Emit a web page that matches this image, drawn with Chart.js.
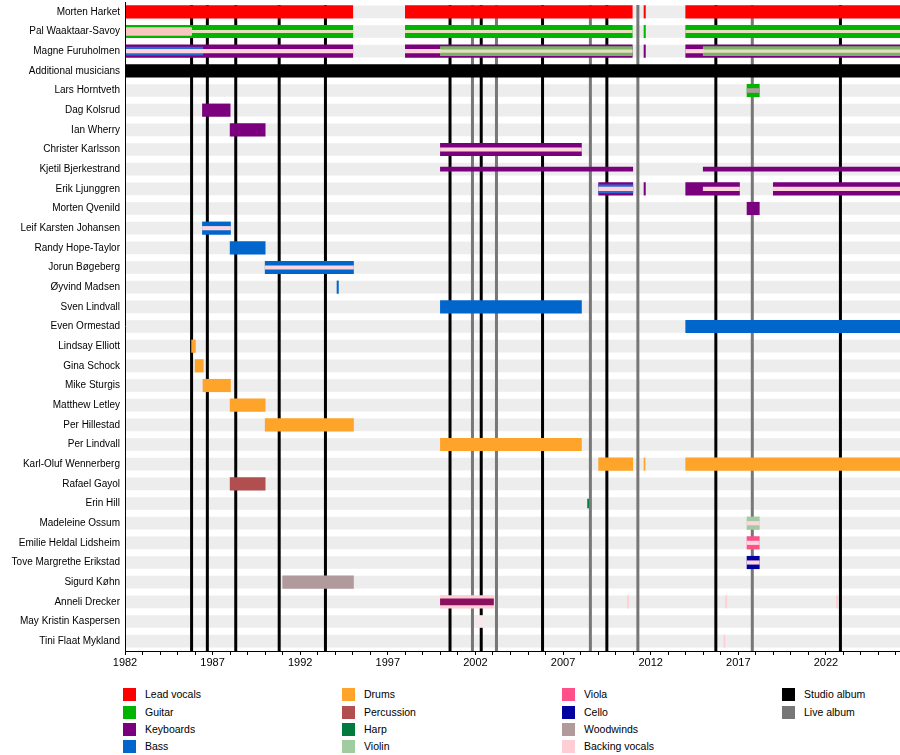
<!DOCTYPE html>
<html><head><meta charset="utf-8">
<script src="https://cdn.jsdelivr.net/npm/chart.js@4.4.1/dist/chart.umd.min.js"></script>
<style>
html,body{margin:0;padding:0;background:#fff;}
#wrap{position:relative;width:900px;height:755px;overflow:hidden;}
#c{position:absolute;left:0;top:0;}
.lg{position:absolute;height:13px;font:10.5px "Liberation Sans",Arial,sans-serif;color:#000;white-space:nowrap;}
.lg .sw{position:absolute;left:0;top:0;width:13px;height:13px;}
.lg .tx{position:absolute;left:22px;top:0;line-height:13px;}
</style></head><body>
<div id="wrap"><canvas id="c" width="900" height="680" style="width:900px;height:680px"></canvas><div id="legend"></div></div>
<script>
const members = ['Morten Harket','Pal Waaktaar-Savoy','Magne Furuholmen','Additional musicians','Lars Horntveth','Dag Kolsrud','Ian Wherry','Christer Karlsson','Kjetil Bjerkestrand','Erik Ljunggren','Morten Qvenild','Leif Karsten Johansen','Randy Hope-Taylor','Jorun Bøgeberg','Øyvind Madsen','Sven Lindvall','Even Ormestad','Lindsay Elliott','Gina Schock','Mike Sturgis','Matthew Letley','Per Hillestad','Per Lindvall','Karl-Oluf Wennerberg','Rafael Gayol','Erin Hill','Madeleine Ossum','Emilie Heldal Lidsheim','Tove Margrethe Erikstad','Sigurd Køhn','Anneli Drecker','May Kristin Kaspersen','Tini Flaat Mykland'];

const START = 1982;
const END = 2026.23;
const tickYears = [1982,1987,1992,1997,2002,2007,2012,2017,2022];
const minorYears = [1982,1983,1984,1985,1986,1987,1988,1989,1990,1991,1992,1993,1994,1995,1996,1997,1998,1999,2000,2001,2002,2003,2004,2005,2006,2007,2008,2009,2010,2011,2012,2013,2014,2015,2016,2017,2018,2019,2020,2021,2022,2023,2024,2025,2026];

const studioAlbums = [1985.8,1986.7,1988.32,1990.8,1993.44,2000.55,2002.33,2005.83,2009.5,2015.72,2022.83];
const liveAlbums = [2001.83,2003.2,2008.56,2011.27,2017.8];

const additional = [['Additional musicians',START,END]];
const leadVocals = [['Morten Harket',1982,1995.0],['Morten Harket',1998.0,2010.95],['Morten Harket',2011.62,2011.7],['Morten Harket',2014.0,END]];
const guitar = [['Pal Waaktaar-Savoy',1982,1995.0],['Pal Waaktaar-Savoy',1998.0,2010.95],['Pal Waaktaar-Savoy',2011.62,2011.7],['Pal Waaktaar-Savoy',2014.0,END],['Lars Horntveth',2017.5,2018.2]];
const keyboards = [['Magne Furuholmen',1982,1995.0],['Magne Furuholmen',1998.0,2010.95],['Magne Furuholmen',2011.62,2011.7],['Magne Furuholmen',2014.0,END],
  ['Dag Kolsrud',1986.42,1988.0],['Ian Wherry',1988.0,1990.0],['Christer Karlsson',2000.0,2008.05],
  ['Erik Ljunggren',2009.03,2010.98],['Erik Ljunggren',2011.62,2011.7],['Erik Ljunggren',2014.0,2017.07],['Erik Ljunggren',2019.0,END],
  ['Morten Qvenild',2017.5,2018.2]];
const keyboardsThin = [['Kjetil Bjerkestrand',2000.0,2010.98],['Kjetil Bjerkestrand',2015.0,END]];
const bass = [['Leif Karsten Johansen',1986.42,1988.02],['Randy Hope-Taylor',1988.0,1990.0],['Jorun Bøgeberg',1990.0,1995.04],['Øyvind Madsen',1994.1,1994.18],['Sven Lindvall',2000.0,2008.05],['Even Ormestad',2014.0,END]];
const bassInner = [['Magne Furuholmen',1982,1986.44],['Erik Ljunggren',2009.03,2010.98]];
const drums = [['Lindsay Elliott',1985.8,1986.02],['Gina Schock',1986.0,1986.47],['Mike Sturgis',1986.45,1988.02],['Matthew Letley',1988.0,1990.0],['Per Hillestad',1990.0,1995.04],['Per Lindvall',2000.0,2008.05],
  ['Karl-Oluf Wennerberg',2009.03,2010.98],['Karl-Oluf Wennerberg',2011.62,2011.68],['Karl-Oluf Wennerberg',2014.0,END]];
const percussion = [['Rafael Gayol',1988.0,1990.0]];
const harp = [['Erin Hill',2008.4,2008.46]];
const violin = [['Madeleine Ossum',2017.5,2018.2]];
const viola = [['Emilie Heldal Lidsheim',2017.5,2018.2]];
const cello = [['Tove Margrethe Erikstad',2017.5,2018.2]];
const woodwinds = [['Sigurd Køhn',1991.0,1995.04]];
const woodwindsInner = [['Lars Horntveth',2017.5,2018.2]];
const backingVocals = [['Anneli Drecker',2000.0,2003.03],['Anneli Drecker',2010.68,2010.74],['Anneli Drecker',2016.28,2016.34],['Anneli Drecker',2022.6,2022.66],['Tini Flaat Mykland',2016.18,2016.24]];
const backingFaint = [['May Kristin Kaspersen',2002.0,2002.45]];
const backingWide = [['Pal Waaktaar-Savoy',1982,1985.8]];
const guitarSecondary = [['Magne Furuholmen',2000.0,2010.95],['Magne Furuholmen',2015.0,END]];
const anneliInner = [['Anneli Drecker',2000.0,2003.03]];
const backingStripe = [['Magne Furuholmen',1982,1995.0],['Magne Furuholmen',1998.0,2000.0],['Magne Furuholmen',2014.0,2015.0],
  ['Christer Karlsson',2000.0,2008.05],['Erik Ljunggren',2009.03,2010.98],['Erik Ljunggren',2015.0,2017.07],['Erik Ljunggren',2019.0,END],
  ['Leif Karsten Johansen',1986.42,1988.02],['Jorun Bøgeberg',1990.0,1995.04],
  ['Madeleine Ossum',2017.5,2018.2],['Emilie Heldal Lidsheim',2017.5,2018.2],['Tove Margrethe Erikstad',2017.5,2018.2]];
const backingStripeOnGreen = [['Pal Waaktaar-Savoy',1985.8,1995.0],['Pal Waaktaar-Savoy',1998.0,2010.95],['Pal Waaktaar-Savoy',2014.0,END],
  ['Magne Furuholmen',2000.0,2010.95],['Magne Furuholmen',2015.0,END]];

const C = {band:'#ededed', lead:'#ff0000', guitar:'#00b400', keys:'#7a007e', bass:'#0066cc', drums:'#ffa42b', perc:'#b04e50',
  harp:'#007a3d', violin:'#a0cca0', viola:'#ff5088', cello:'#0000a0', wood:'#b09a9c', back:'#ffcdd4', studio:'#000000', live:'#777777',
  guitar2:'#79b466', beige:'#e6dfbd', anneli:'#8c1060'};

const legendCols = [
  [['Lead vocals',C.lead],['Guitar',C.guitar],['Keyboards',C.keys],['Bass',C.bass]],
  [['Drums',C.drums],['Percussion',C.perc],['Harp',C.harp],['Violin',C.violin]],
  [['Viola',C.viola],['Cello',C.cello],['Woodwinds',C.wood],['Backing vocals',C.back]],
  [['Studio album',C.studio],['Live album',C.live]]
];

const bandRows = members.map(m => [m, START, END]);

const layers = [
  {label:'band', rows:bandRows, color:C.band, h:12},
  {label:'Additional', rows:additional, color:'#000', h:12.5},
  {label:'Lead vocals', rows:leadVocals, color:C.lead, h:12.5},
  {label:'Guitar', rows:guitar, color:C.guitar, h:12.5},
  {label:'Keyboards', rows:keyboards, color:C.keys, h:12.5},
  {label:'Bass', rows:bass, color:C.bass, h:12.5},
  {label:'Drums', rows:drums, color:C.drums, h:12.5},
  {label:'Percussion', rows:percussion, color:C.perc, h:12.5},
  {label:'Harp', rows:harp, color:C.harp, h:9},
  {label:'Violin', rows:violin, color:C.violin, h:12.5},
  {label:'Viola', rows:viola, color:C.viola, h:12.5},
  {label:'Cello', rows:cello, color:C.cello, h:12.5},
  {label:'Woodwinds', rows:woodwinds, color:C.wood, h:12.5},
  {label:'Backing vocals', rows:backingVocals, color:C.back, h:12.5},
  {label:'Backing faint', rows:backingFaint, color:'#f7e9eb', h:12},
  {label:'Keyboards thin', rows:keyboardsThin, color:C.keys, h:4},
  {label:'Backing wide', rows:backingWide, color:'#f9c6c2', h:8},
  {label:'Bass inner', rows:bassInner, color:'#2a6ad0', h:8},
  {label:'Guitar secondary', rows:guitarSecondary, color:C.guitar2, h:9},
  {label:'Anneli inner', rows:anneliInner, color:C.anneli, h:6},
  {label:'Woodwinds inner', rows:woodwindsInner, color:C.wood, h:4},
  {label:'Backing stripe', rows:backingStripe, color:'#ffd4dc', h:3.5},
  {label:'Backing stripe green', rows:backingStripeOnGreen, color:C.beige, h:2.5}
];

const N = layers.length;
const datasets = layers.map((L, i) => ({
  label: L.label,
  data: L.rows.map(([m, a, b]) => ({y: m, x: [a, b]})),
  backgroundColor: L.color,
  barThickness: L.h,
  borderWidth: 0,
  borderSkipped: false,
  grouped: false,
  order: N - i
}));

const albumLines = {
  id: 'albumLines',
  afterDatasetDraw(chart, args) {
    if (args.index !== 0) return;
    const {ctx, chartArea, scales} = chart;
    const x = scales.x;
    ctx.save();
    const draw = (vals, color, w) => {
      ctx.strokeStyle = color; ctx.lineWidth = w;
      vals.forEach(v => {
        const px = x.getPixelForValue(v);
        ctx.beginPath(); ctx.moveTo(px, chartArea.top + 3); ctx.lineTo(px, chartArea.bottom); ctx.stroke();
      });
    };
    draw(liveAlbums, C.live, 3);
    draw(studioAlbums, C.studio, 3);
    ctx.restore();
  },
  afterDatasetsDraw(chart) {
    const {ctx, chartArea, scales} = chart;
    const px = Math.round(scales.y.right) + 0.5;
    ctx.save();
    ctx.strokeStyle = '#000'; ctx.lineWidth = 1;
    ctx.beginPath(); ctx.moveTo(px, chartArea.top); ctx.lineTo(px, chartArea.bottom); ctx.stroke();
    ctx.restore();
  }
};

new Chart(document.getElementById('c'), {
  type: 'bar',
  data: {labels: members, datasets},
  plugins: [albumLines],
  options: {
    indexAxis: 'y',
    responsive: false,
    animation: false,
    devicePixelRatio: 1,
    layout: {padding: {top: 2, right: 0, bottom: 0, left: 0}},
    plugins: {legend: {display: false}, tooltip: {enabled: false}},
    scales: {
      x: {
        type: 'linear', min: START, max: END,
        afterBuildTicks: (axis) => { axis.ticks = minorYears.map(v => ({value: v})); },
        afterFit: (scale) => { scale.height = 29; scale.paddingRight = 0; },
        grid: {drawOnChartArea: false, drawTicks: true, tickLength: 4, color: '#000'},
        border: {color: '#000', width: 1},
        ticks: {autoSkip: false, maxRotation: 0, padding: 1, color: '#000',
          font: {family: 'Liberation Sans', size: 11},
          callback: (v) => tickYears.includes(v) ? String(v) : ''}
      },
      y: {
        type: 'category',
        afterFit: (scale) => { scale.width = 125; scale.paddingTop = 0; scale.paddingBottom = 0; },
        grid: {display: false, drawTicks: false, tickLength: 0},
        border: {display: true, color: '#000', width: 1},
        ticks: {padding: 5, color: '#000', autoSkip: false, font: {family: 'Liberation Sans', size: 10}}
      }
    }
  }
});

const lg = document.getElementById('legend');
const colX = [123, 342, 562, 782];
const rowY = [694, 712, 729, 746];
legendCols.forEach((col, ci) => {
  col.forEach(([name, color], ri) => {
    const d = document.createElement('div');
    d.className = 'lg';
    d.style.left = colX[ci] + 'px';
    d.style.top = (rowY[ri] - 6.5) + 'px';
    d.innerHTML = '<span class="sw" style="background:' + color + '"></span><span class="tx"></span>';
    d.querySelector('.tx').textContent = name;
    lg.appendChild(d);
  });
});
</script></body></html>
